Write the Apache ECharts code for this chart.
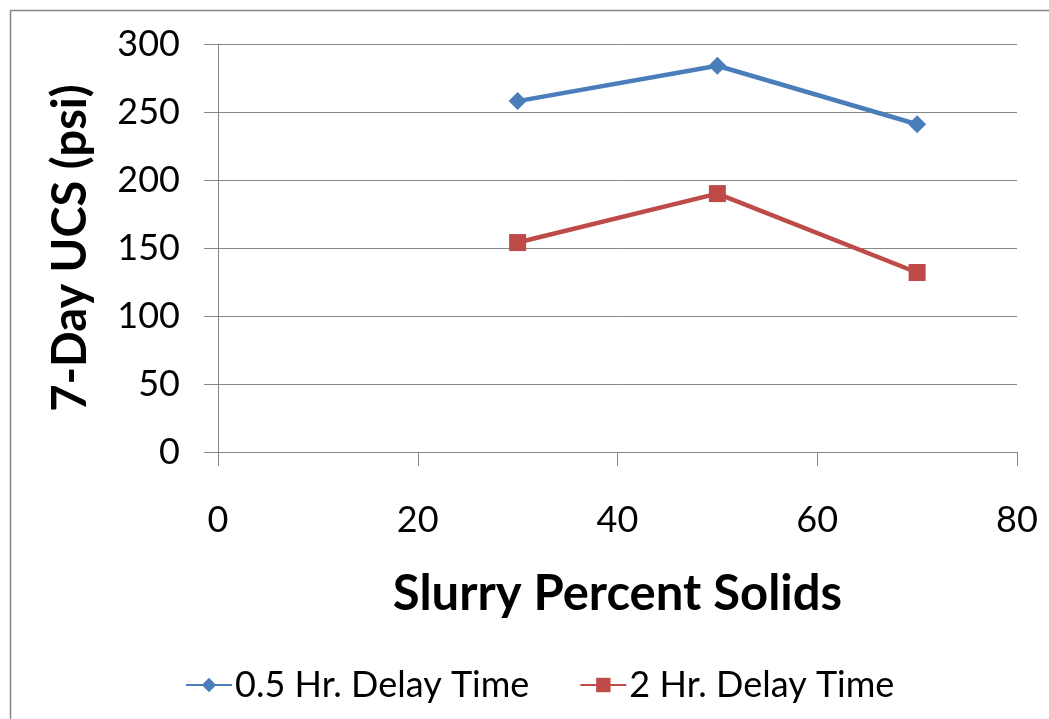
<!DOCTYPE html>
<html>
<head>
<meta charset="utf-8">
<script src="https://cdn.jsdelivr.net/npm/echarts@6/dist/echarts.min.js"></script>
<style>
html,body{margin:0;padding:0;background:#fff;}
#c{width:1049px;height:719px;}
</style>
</head>
<body>
<div id="c"></div>
<script>
const xValues = [30, 50, 70];
const delay05 = [258, 284, 241];
const delay2 = [154, 190, 132];
const seriesNames = ['0.5 Hr. Delay Time', '2 Hr. Delay Time'];
const xTitle = 'Slurry Percent Solids';
const yTitle = '7-Day UCS (psi)';

const FONT = 'Lato, "Open Sans", sans-serif';
const chart = echarts.init(document.getElementById('c'));
const pairs = arr => xValues.map((x, i) => [x, arr[i]]);
chart.setOption({
  animation: false,
  backgroundColor: '#fff',
  textStyle: {fontFamily: FONT, color: '#000'},
  graphic: [{
    type: 'rect', left: 8, top: 8, silent: true,
    shape: {width: 1100, height: 800},
    style: {fill: 'none', stroke: '#868686', lineWidth: 1.5}
  }],
  grid: {left: 218, right: 32, top: 44, bottom: 267, containLabel: false},
  legend: {
    left: 180, top: 662,
    itemWidth: 46, itemHeight: 18, itemGap: 50,
    textStyle: {fontFamily: FONT, fontSize: 36, color: '#000', padding: [0,0,0,-2]},
    data: seriesNames
  },
  xAxis: {
    type: 'value', min: 0, max: 80, interval: 20,
    name: xTitle, nameLocation: 'middle', nameGap: 118,
    nameTextStyle: {fontFamily: FONT, fontSize: 49, fontWeight: 'bold', color: '#000'},
    axisLine: {show: true, lineStyle: {color: '#868686', width: 1}},
    axisTick: {show: true, length: 14, inside: false, lineStyle: {color: '#868686'}},
    axisLabel: {fontSize: 36, color: '#000', margin: 50, fontFamily: FONT},
    splitLine: {show: false}
  },
  yAxis: {
    type: 'value', min: 0, max: 300, interval: 50,
    name: yTitle, nameLocation: 'middle', nameGap: 124, nameRotate: 90,
    nameTextStyle: {fontFamily: FONT, fontSize: 47, fontWeight: 'bold', color: '#000'},
    axisLine: {show: true, lineStyle: {color: '#868686', width: 1}},
    axisTick: {show: true, length: 14, inside: false, lineStyle: {color: '#868686'}},
    axisLabel: {fontSize: 36, color: '#000', margin: 38, fontFamily: FONT},
    splitLine: {show: true, lineStyle: {color: '#868686', width: 1}}
  },
  series: [{
    name: seriesNames[0], type: 'line', data: pairs(delay05),
    symbol: 'diamond', symbolSize: 18,
    lineStyle: {color: '#4A7EBB', width: 4.5},
    itemStyle: {color: '#4A7EBB'}
  }, {
    name: seriesNames[1], type: 'line', data: pairs(delay2),
    symbol: 'rect', symbolSize: 17,
    lineStyle: {color: '#BE4B48', width: 4.5},
    itemStyle: {color: '#BE4B48'}
  }]
});
</script>
</body>
</html>
